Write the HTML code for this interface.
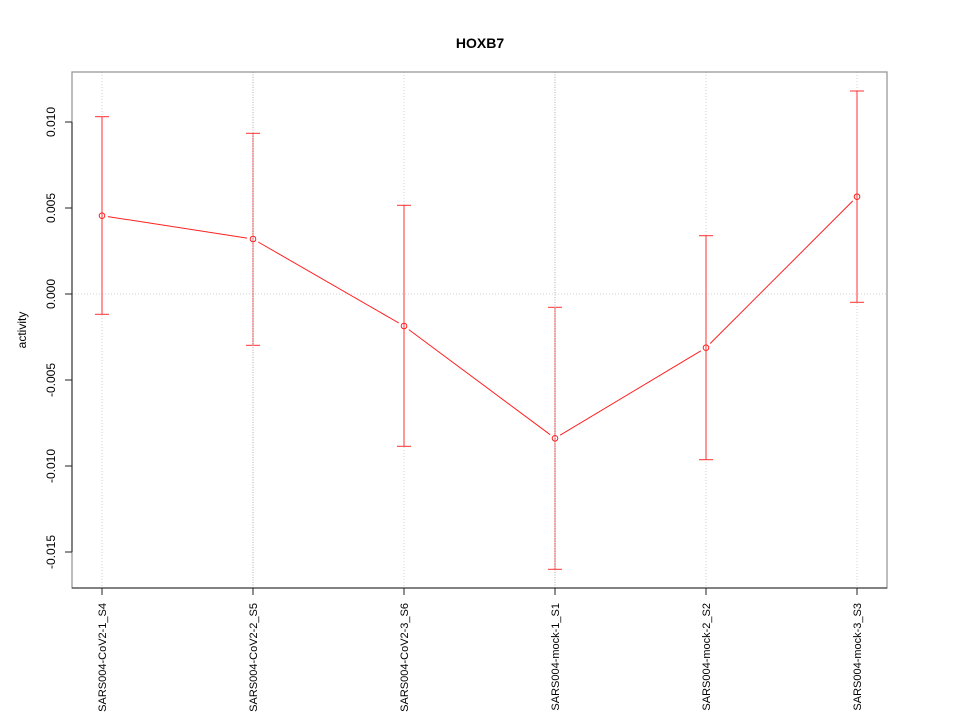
<!DOCTYPE html>
<html><head><meta charset="utf-8"><style>
html,body{margin:0;padding:0;background:#fff;}
svg{display:block;}
text{font-family:"Liberation Sans",Arial,sans-serif;fill:#000;}
</style></head><body>
<svg width="960" height="720" viewBox="0 0 960 720" xmlns="http://www.w3.org/2000/svg">
<rect width="960" height="720" fill="#fff"/>
<text x="480" y="48" font-size="14" font-weight="bold" text-anchor="middle">HOXB7</text>
<!-- grid under -->
<g stroke="#d3d3d3" stroke-width="1" stroke-dasharray="1,2">
<line x1="102" y1="72" x2="102" y2="588"/>
<line x1="404" y1="72" x2="404" y2="588"/>
<line x1="706" y1="72" x2="706" y2="588"/>
<line x1="857" y1="72" x2="857" y2="588"/>
<line x1="72" y1="294" x2="887" y2="294"/>
</g>
<!-- error bars -->
<g stroke="#ff3030" stroke-width="1" fill="none">
<line x1="102" y1="116.7" x2="102" y2="314.3"/><line x1="95" y1="116.7" x2="109" y2="116.7"/><line x1="95" y1="314.3" x2="109" y2="314.3"/>
<line x1="253" y1="133.3" x2="253" y2="345.3"/><line x1="246" y1="133.3" x2="260" y2="133.3"/><line x1="246" y1="345.3" x2="260" y2="345.3"/>
<line x1="404" y1="205.3" x2="404" y2="446.3"/><line x1="397" y1="205.3" x2="411" y2="205.3"/><line x1="397" y1="446.3" x2="411" y2="446.3"/>
<line x1="555" y1="307.3" x2="555" y2="569.3"/><line x1="548" y1="307.3" x2="562" y2="307.3"/><line x1="548" y1="569.3" x2="562" y2="569.3"/>
<line x1="706" y1="235.7" x2="706" y2="459.7"/><line x1="699" y1="235.7" x2="713" y2="235.7"/><line x1="699" y1="459.7" x2="713" y2="459.7"/>
<line x1="857" y1="91" x2="857" y2="302.3"/><line x1="850" y1="91" x2="864" y2="91"/><line x1="850" y1="302.3" x2="864" y2="302.3"/>
</g>
<!-- grid over (S5, S1) -->
<g stroke="#b0b0b0" stroke-width="1" stroke-dasharray="1,1.5">
<line x1="253" y1="72" x2="253" y2="588"/>
<line x1="555" y1="72" x2="555" y2="588"/>
</g>
<!-- series -->
<g stroke="#ff2020" stroke-width="1" fill="none">
<line x1="107.9" y1="216.6" x2="247.1" y2="238.1"/>
<line x1="258.2" y1="242" x2="398.8" y2="323"/>
<line x1="408.8" y1="329.6" x2="550.2" y2="434.7"/>
<line x1="560.1" y1="435.2" x2="700.9" y2="350.8"/>
<line x1="710.2" y1="343.5" x2="852.8" y2="200.9"/>
<circle cx="102" cy="215.7" r="2.8"/>
<circle cx="253" cy="239" r="2.8"/>
<circle cx="404" cy="326" r="2.8"/>
<circle cx="555" cy="438.3" r="2.8"/>
<circle cx="706" cy="347.7" r="2.8"/>
<circle cx="857" cy="196.7" r="2.8"/>
</g>
<!-- box -->
<rect x="72" y="72" width="815" height="516" fill="none" stroke="#999" stroke-width="1.3"/>
<!-- axes -->
<g stroke="#222" stroke-width="1">
<line x1="72" y1="122" x2="72" y2="552"/>
<line x1="65" y1="122" x2="72" y2="122"/>
<line x1="65" y1="208" x2="72" y2="208"/>
<line x1="65" y1="294" x2="72" y2="294"/>
<line x1="65" y1="380" x2="72" y2="380"/>
<line x1="65" y1="466" x2="72" y2="466"/>
<line x1="65" y1="552" x2="72" y2="552"/>
<line x1="72" y1="588" x2="887" y2="588"/>
<line x1="102" y1="588" x2="102" y2="595"/>
<line x1="253" y1="588" x2="253" y2="595"/>
<line x1="404" y1="588" x2="404" y2="595"/>
<line x1="555" y1="588" x2="555" y2="595"/>
<line x1="706" y1="588" x2="706" y2="595"/>
<line x1="857" y1="588" x2="857" y2="595"/>
</g>
<g font-size="12" text-anchor="middle">
<text transform="translate(55,122) rotate(-90)">0.010</text>
<text transform="translate(55,208) rotate(-90)">0.005</text>
<text transform="translate(55,294) rotate(-90)">0.000</text>
<text transform="translate(55,380) rotate(-90)">-0.005</text>
<text transform="translate(55,466) rotate(-90)">-0.010</text>
<text transform="translate(55,552) rotate(-90)">-0.015</text>
<text transform="translate(26,330) rotate(-90)">activity</text>
</g>
<g font-size="11" text-anchor="end">
<text transform="translate(106,603) rotate(-90)">SARS004-CoV2-1_S4</text>
<text transform="translate(257,603) rotate(-90)">SARS004-CoV2-2_S5</text>
<text transform="translate(408,603) rotate(-90)">SARS004-CoV2-3_S6</text>
<text transform="translate(559,603) rotate(-90)">SARS004-mock-1_S1</text>
<text transform="translate(710,603) rotate(-90)">SARS004-mock-2_S2</text>
<text transform="translate(861,603) rotate(-90)">SARS004-mock-3_S3</text>
</g>
</svg>
</body></html>
